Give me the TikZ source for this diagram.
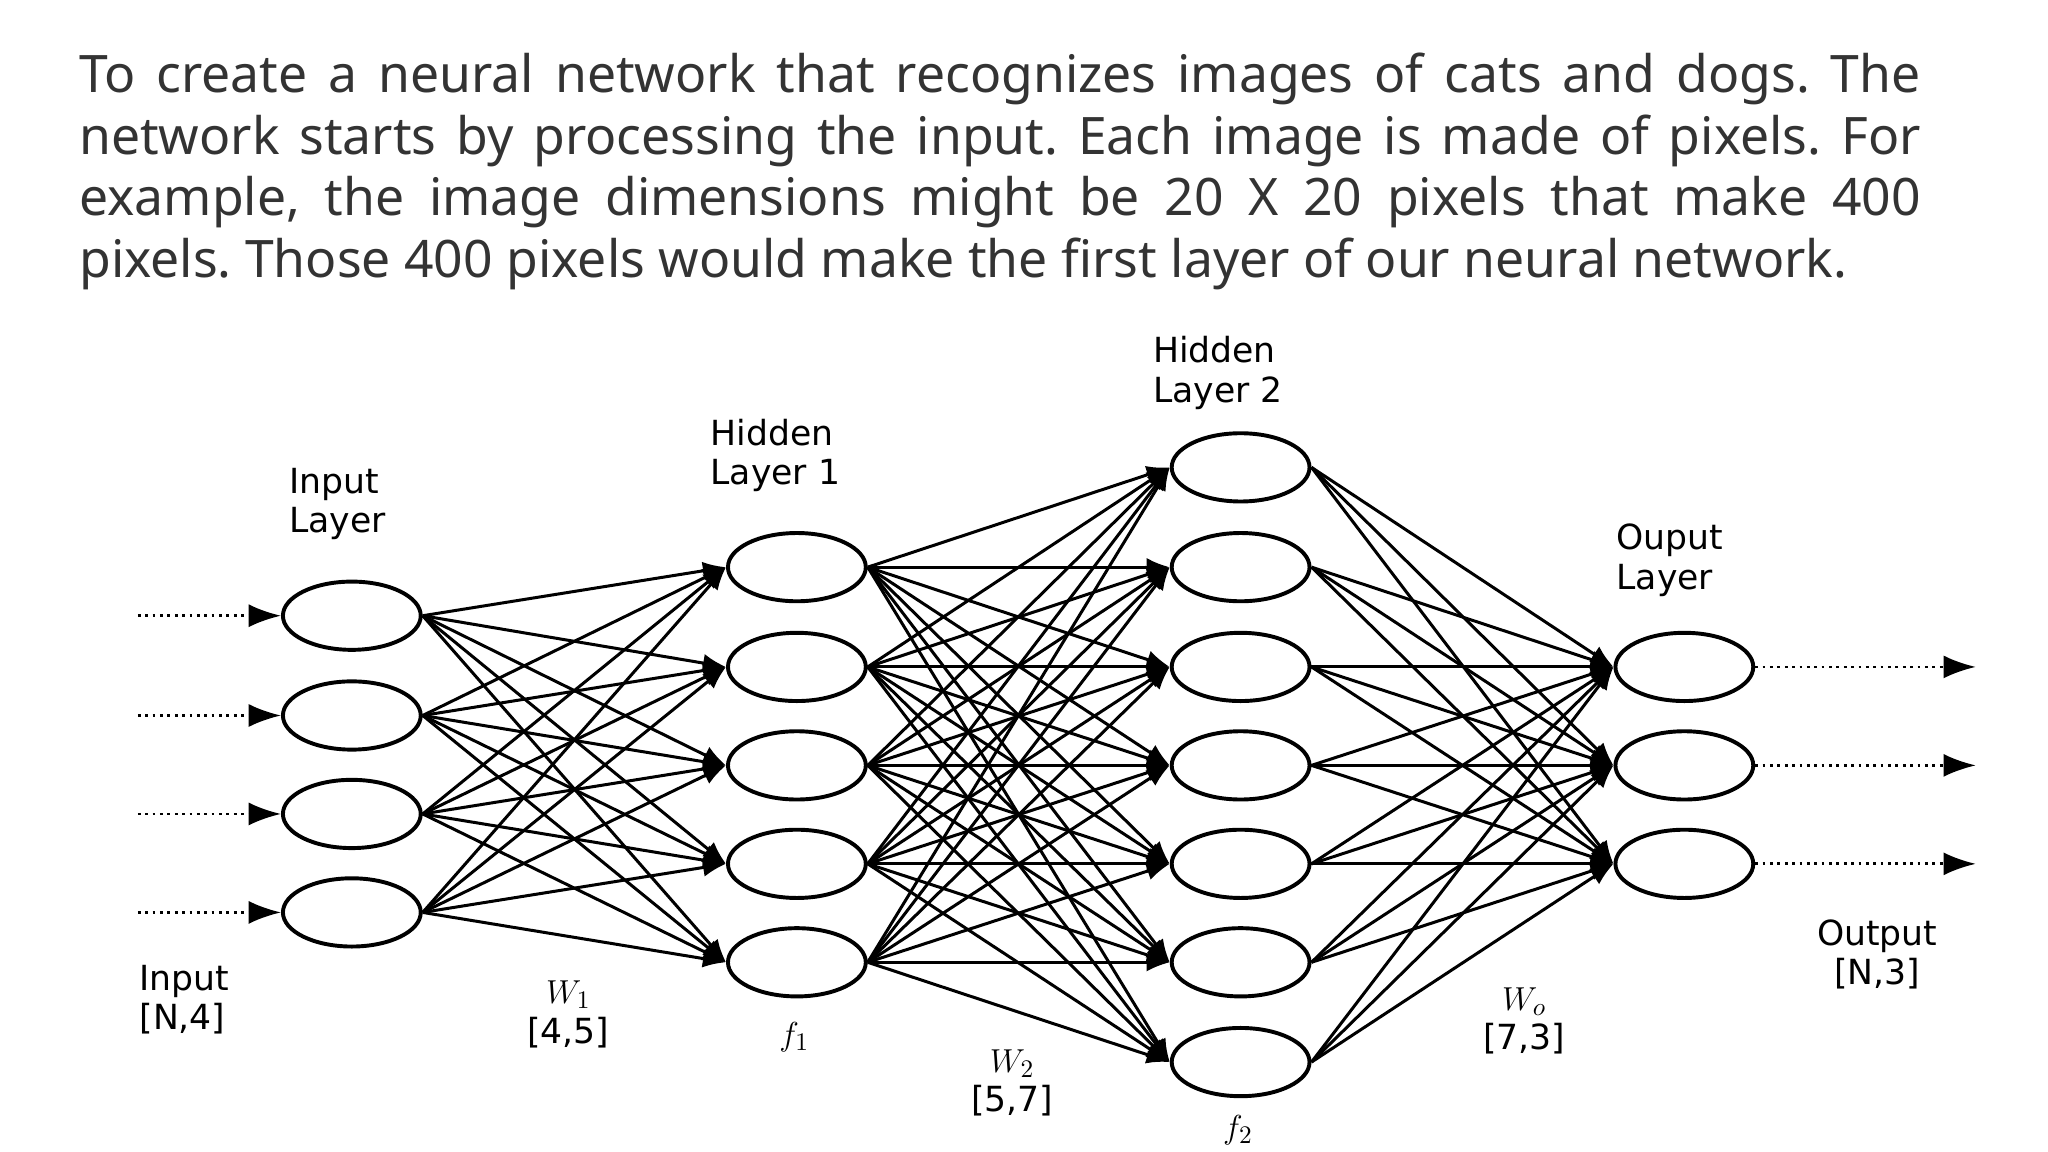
\documentclass[tikz,border=0pt]{standalone}
\usepackage{fontspec}
\setmainfont{Noto Sans}
\newfontfamily\labfont{DejaVu Sans}
\usetikzlibrary{shapes.geometric,arrows.meta}
\begin{document}
\frenchspacing
\begin{tikzpicture}[x=0.02cm,y=-0.02cm,
  neuron/.style={ellipse,draw,line width=1.7pt,minimum width=2.1cm,minimum height=1.04cm,inner sep=0pt},
  conn/.style={line width=1.3pt,-{Latex[length=10pt,width=8pt]}},
  io/.style={line width=1.2pt,dotted,-{Latex[length=14pt,width=10pt]}},
  lab/.style={font=\labfont\fontsize{15}{17}\selectfont,align=left,anchor=north west,inner sep=0pt},
  labc/.style={font=\labfont\fontsize{15}{17}\selectfont,align=center,anchor=north,inner sep=0pt}]
\useasboundingbox (0,0) rectangle (1560,877.5);
\node[anchor=north west,inner sep=0pt,text width=28.06cm,align=justify,font=\fontsize{22.4}{26.7}\selectfont,color=black!80] (para) at (60,40)
{To create a neural network that recognizes images of cats and dogs. The\linebreak network starts by processing the input. Each image is made of pixels. For\linebreak example, the image dimensions might be 20 X 20 pixels that make 400\linebreak pixels. Those 400 pixels would make the first layer of our neural network.};
\foreach \i/\y in {1/469,2/545,3/620,4/695}{\node[neuron] (a\i) at (268,\y) {};
  \coordinate (s\i) at (105,\y); \draw[io] (s\i) -- (a\i);}
\foreach \i/\y in {1/432,2/508,3/583,4/658,5/733}{\node[neuron] (b\i) at (607,\y) {};}
\foreach \i/\y in {1/356,2/432,3/508,4/583,5/658,6/733,7/809}{\node[neuron] (c\i) at (945,\y) {};}
\foreach \i/\y in {1/508,2/583,3/658}{\node[neuron] (d\i) at (1283,\y) {};
  \coordinate (e\i) at (1505,\y); \draw[io] (d\i) -- (e\i);}
\foreach \i in {1,...,4}{\foreach \j in {1,...,5}{\draw[conn] (a\i.east) -- (b\j.west);}}
\foreach \i in {1,...,5}{\foreach \j in {1,...,7}{\draw[conn] (b\i.east) -- (c\j.west);}}
\foreach \i in {1,...,7}{\foreach \j in {1,...,3}{\draw[conn] (c\i.east) -- (d\j.west);}}
\node[lab] (l1) at (220,356) {Input\\Layer};
\node[lab] (l2) at (541,319) {Hidden\\Layer 1};
\node[lab] (l3) at (878,256) {Hidden\\Layer 2};
\node[lab] (l4) at (1231,399) {Ouput\\Layer};
\node[lab] (l5) at (106,735) {Input\\{[N,4]}};
\node[labc] (l6) at (1430,700) {Output\\{[N,3]}};
\node[labc] (w1) at (433,747) {$W_1$\\{[4,5]}};
\node[labc] (w2) at (771,799) {$W_2$\\{[5,7]}};
\node[labc] (wo) at (1161,752) {$W_o$\\{[7,3]}};
\node[font=\fontsize{15}{16}\selectfont] (f1) at (605,790) {$f_1$};
\node[font=\fontsize{15}{16}\selectfont] (f2) at (943,861) {$f_2$};
\end{tikzpicture}
\end{document}
